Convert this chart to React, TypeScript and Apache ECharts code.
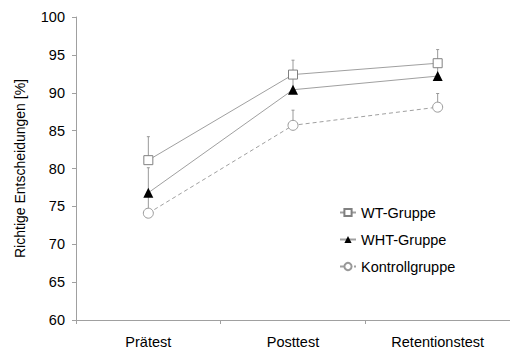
import React, { useEffect, useRef } from "react";
import * as echarts from "echarts";

const categories = ["Prätest", "Posttest", "Retentionstest"];
const wtValues = [81.1, 92.4, 93.9];
const wtErrors = [3.1, 1.9, 1.8];
const whtValues = [76.8, 90.4, 92.2];
const whtErrors = [3.3, 1.9, 1.6];
const kgValues = [74.1, 85.7, 88.1];
const kgErrors = [2.8, 2.0, 1.8];
const yTicks = { min: 60, max: 100, interval: 5 };

const FONT = "Liberation Sans, Arial, sans-serif";
const GRAY = "#a0a0a0";
const FS = 14.5;

function errorSeries(values: number[], errors: number[]) {
  return {
    type: "custom",
    z: 1,
    silent: true,
    data: values.map((v, i) => [i, v, v + errors[i]]),
    renderItem: (params: any, api: any) => {
      const p0 = api.coord([api.value(0), api.value(1)]);
      const p1 = api.coord([api.value(0), api.value(2)]);
      const st = { stroke: "#999999", lineWidth: 1 };
      return {
        type: "group",
        children: [
          { type: "line", shape: { x1: p0[0], y1: p0[1], x2: p1[0], y2: p1[1] }, style: st },
          { type: "line", shape: { x1: p1[0] - 1.5, y1: p1[1], x2: p1[0] + 1.5, y2: p1[1] }, style: st },
        ],
      };
    },
  };
}

export default function App() {
  const ref = useRef<HTMLDivElement>(null);
  useEffect(() => {
    document.body.style.margin = "0";
    const chart = echarts.init(ref.current!, null, { renderer: "svg" });
    chart.setOption({
      animation: false,
      backgroundColor: "#ffffff",
      textStyle: { fontFamily: FONT },
      grid: { left: 76, top: 17, width: 438, height: 305 },
      legend: {
        orient: "vertical",
        left: 339,
        top: 205,
        padding: 0,
        itemWidth: 16,
        itemHeight: 9,
        itemGap: 12,
        textStyle: { fontFamily: FONT, fontSize: FS, color: "#000" },
        data: ["WT-Gruppe", "WHT-Gruppe", "Kontrollgruppe"],
      },
      xAxis: {
        type: "category",
        data: categories,
        boundaryGap: true,
        axisLine: { lineStyle: { color: GRAY, width: 1 } },
        axisTick: { show: true, length: 4, lineStyle: { color: GRAY } },
        axisLabel: { margin: 14, fontSize: FS, color: "#000", fontFamily: FONT },
        splitLine: { show: false },
      },
      yAxis: {
        type: "value",
        min: yTicks.min,
        max: yTicks.max,
        interval: yTicks.interval,
        name: "Richtige Entscheidungen [%]",
        nameLocation: "middle",
        nameGap: 49,
        nameTextStyle: { fontSize: 14, color: "#000", fontFamily: FONT },
        axisLine: { show: true, lineStyle: { color: GRAY, width: 1 } },
        axisTick: { show: true, length: 4, lineStyle: { color: GRAY } },
        axisLabel: { margin: 11, fontSize: FS, color: "#000", fontFamily: FONT },
        splitLine: { show: false },
      },
      series: [
        errorSeries(wtValues, wtErrors),
        errorSeries(whtValues, whtErrors),
        errorSeries(kgValues, kgErrors),
        {
          name: "WT-Gruppe",
          type: "line",
          z: 3,
          data: wtValues,
          symbol: "rect",
          symbolSize: 9,
          lineStyle: { color: GRAY, width: 1 },
          itemStyle: { color: "#ffffff", borderColor: "#808080", borderWidth: 1 },
        },
        {
          name: "WHT-Gruppe",
          type: "line",
          z: 3,
          data: whtValues,
          symbol: "triangle",
          symbolSize: 10,
          lineStyle: { color: GRAY, width: 1 },
          itemStyle: { color: "#000000", borderColor: "#000000", borderWidth: 0 },
        },
        {
          name: "Kontrollgruppe",
          type: "line",
          z: 3,
          data: kgValues,
          symbol: "circle",
          symbolSize: 10,
          lineStyle: { color: GRAY, width: 1, type: [4, 3] },
          itemStyle: { color: "#ffffff", borderColor: "#999999", borderWidth: 1 },
        },
      ],
    });
    return () => chart.dispose();
  }, []);
  return <div ref={ref} style={{ width: 510, height: 349 }} />;
}
